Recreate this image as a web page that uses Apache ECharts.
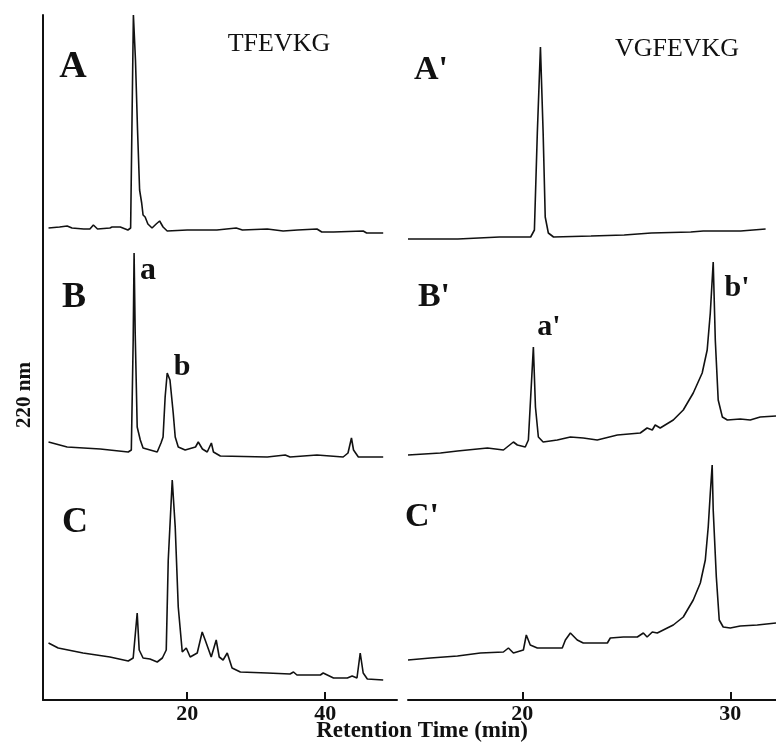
<!DOCTYPE html>
<html><head><meta charset="utf-8">
<script src="https://cdn.jsdelivr.net/npm/echarts@6/dist/echarts.min.js"></script>
<style>html,body{margin:0;padding:0;background:#fff}#c{width:776px;height:747px}</style>
</head><body><div id="c"></div>
<script>
// Retention time (min) and detector response (relative, 220 nm)
const tA = [-0.1,1.5,2.6,3.3,5.0,5.9,6.4,7.0,8.8,9.1,10.3,11.4,11.8,12.0,12.2,12.5,12.8,13.1,13.4,13.6,13.9,14.3,14.9,15.5,16.0,16.5,17.1,20,24.3,27.1,28,31.6,33.9,36,38.8,39.5,41.2,45.5,46,48.4];
const vA = [12,13,14,12,11,11,15,11,12,13,13,10,12,120,225,180,110,50,37,25,23,16,12,16,19,13,9,10,10,12,10,11,9,10,11,8,8,9,7,7];

const tB = [-0.1,2.6,7.4,11.45,11.9,12.17,12.3,12.46,12.75,13.2,13.6,15.65,16.2,16.5,16.8,17.1,17.5,17.97,18.26,18.7,19.7,21.2,21.6,22.2,22.9,23.5,23.8,24.8,31.6,34.2,34.9,38.8,42.6,43.3,43.8,44.1,44.8,48.4];
const vB = [23,18,16,13,15,125,212,132,38,25,17,13,22,28,68,92,85,52,28,18,15,18,23,16,13,22,13,9,8,10,8,10,8,12,27,15,8,8];

const tC = [-0.1,1.3,4.9,8.8,11.45,12.17,12.75,13.04,13.6,14.6,15.65,16.4,16.96,17.25,17.83,18.26,18.7,19.28,19.86,20.43,21.45,22.17,22.6,23.48,24.2,24.64,25.2,25.8,26.5,27.7,31.6,34.9,35.4,35.9,39.3,39.7,41.2,43.2,43.9,44.6,45.07,45.5,46.1,48.4];
const vC = [57,52,47,43,39,42,87,50,42,41,38,42,50,140,220,173,93,48,52,43,47,68,60,43,60,43,40,47,32,28,27,26,28,25,25,27,22,22,24,22,47,27,21,20];

const tA2 = [14.5,16.9,18.9,20.4,20.58,20.72,20.87,21.0,21.1,21.25,21.5,23.3,24.9,26.2,28.1,28.7,30.5,31.7];
const vA2 = [1,1,3,3,10,107,193,107,23,7,3,4,5,7,8,9,9,11];

const tB2 = [14.5,16.06,16.88,18.32,19.09,19.57,19.76,20.14,20.29,20.53,20.63,20.77,21.0,21.68,22.31,22.93,23.6,24.57,25.67,26.0,26.25,26.39,26.63,27.26,27.74,28.22,28.65,28.89,29.04,29.18,29.28,29.42,29.62,29.86,30.48,30.96,31.44,32.2];
const vB2 = [10,12,14,17,15,23,20,18,25,118,58,28,23,25,28,27,25,30,32,37,35,40,37,45,55,72,92,115,152,203,125,65,48,45,46,45,48,49];

const tC2 = [14.5,15.58,16.88,17.98,19.09,19.33,19.57,20.05,20.19,20.38,20.72,21.92,22.07,22.31,22.64,22.93,24.09,24.23,24.86,25.53,25.82,26.0,26.25,26.49,26.97,27.26,27.74,28.22,28.56,28.8,28.94,29.04,29.13,29.18,29.33,29.47,29.66,30.0,30.48,31.3,32.2];
const vC2 = [40,42,44,47,48,52,47,50,65,55,52,52,60,67,60,57,57,62,63,63,67,63,68,67,72,75,83,100,117,140,173,207,235,190,123,80,73,72,74,75,77];

const leftTicks = [20, 40];
const rightTicks = [20, 30];
const leftRange = [-0.9, 50.4];
const rightRange = [14.5, 32.2];

const SERIF = '"Liberation Serif","Times New Roman",serif';
const INK = '#111';

const rows = [{top:15,height:225},{top:240,height:225},{top:465,height:235}];
const grids = [], xAxes = [], yAxes = [];
rows.forEach((r,i)=>{
  grids.push({left:43, width:354, top:r.top, height:r.height});
  grids.push({left:408, right:0, top:r.top, height:r.height});
});
for (let g=0; g<6; g++){
  const isLeft = g%2===0, isBottom = g>=4;
  const range = isLeft?leftRange:rightRange;
  xAxes.push({
    gridIndex:g, type:'value', min:range[0], max:range[1], show:isBottom,
    splitLine:{show:false},
    axisLine:{show:true, onZero:false, lineStyle:{color:INK, width:2}},
    axisTick:{show:true, inside:true, length:8, lineStyle:{color:INK,width:2}, customValues: isLeft?leftTicks:rightTicks},
    axisLabel:{show:true, margin:3, color:INK, fontFamily:SERIF, fontWeight:'bold', fontSize:22, customValues: isLeft?leftTicks:rightTicks}
  });
  yAxes.push({
    gridIndex:g, type:'value', min:0, max:rows[Math.floor(g/2)].height, show:isLeft,
    splitLine:{show:false},
    axisLine:{show:true, onZero:false, lineStyle:{color:INK,width:2}},
    axisTick:{show:false}, axisLabel:{show:false}
  });
}
function pairs(t,v){ return t.map((x,i)=>[x,v[i]]); }
const traces = [[tA,vA],[tA2,vA2],[tB,vB],[tB2,vB2],[tC,vC],[tC2,vC2]];
const series = traces.map((tr,g)=>({
  type:'line', xAxisIndex:g, yAxisIndex:g, data:pairs(tr[0],tr[1]),
  showSymbol:false, symbol:'none', animation:false, silent:true,
  lineStyle:{color:INK, width:1.6}, clip:true
}));

function txt(s,x,y,size,bold,rot){
  return {type:'text', x:x, y:y, rotation:rot||0, silent:true,
    style:{text:s, fill:INK, font:(bold?'bold ':'')+size+'px '+SERIF, align:'center', verticalAlign:'middle'}};
}
const graphic = [
  txt('A',73,67,38,true), txt('TFEVKG',279,44,26,false),
  txt("A'",431,70,34,true), txt('VGFEVKG',677,49,26,false),
  txt('B',74,298,36,true), txt('a',148,271,32,true), txt('b',182,367,30,true),
  txt("B'",434,297,34,true), txt("a'",549,327,30,true), txt("b'",737,288,30,true),
  txt('C',75,523,36,true), txt("C'",422,517,34,true),
  txt('220 nm',25,395,21,true,Math.PI/2),
  txt('Retention Time (min)',422,731,23,true)
];

const chart = echarts.init(document.getElementById('c'), null, {renderer:'canvas'});
chart.setOption({animation:false, backgroundColor:'#fff', grid:grids, xAxis:xAxes, yAxis:yAxes, series:series, graphic:graphic});
</script></body></html>
